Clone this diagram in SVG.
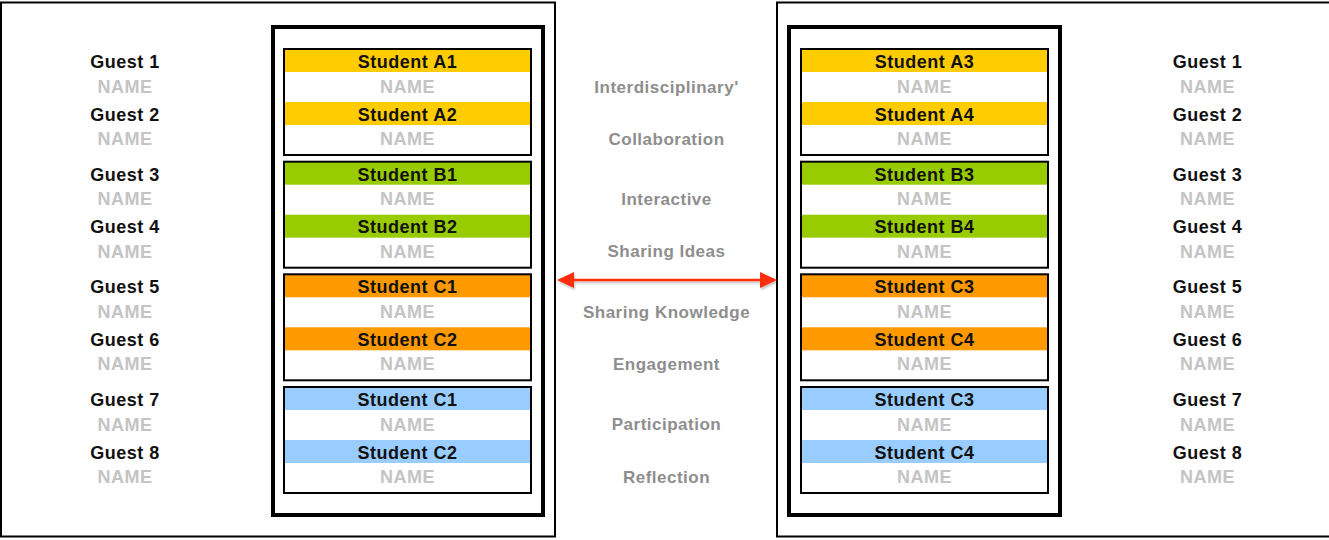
<svg xmlns="http://www.w3.org/2000/svg" width="1329" height="540" viewBox="0 0 1329 540">
<style>
text{font-family:"Liberation Sans",Arial,sans-serif;font-weight:bold;text-anchor:middle;letter-spacing:0.5px}
.lbl{font-size:18px;fill:#111}
.nm{font-size:18px;fill:#c4c4c4}
.mid{font-size:17px;fill:#8e8e8e}
.panel{fill:none;stroke:#000;stroke-width:2}
.frame{fill:none;stroke:#000;stroke-width:4}
.grp{fill:none;stroke:#000;stroke-width:2}
.y{fill:#FFCC00}.g{fill:#99CC00}.o{fill:#FF9900}.b{fill:#99CCFF}
.arrow{stroke:#FF2E0A;stroke-width:2.5;fill:none}
</style>
<defs>
<marker id="ah" markerUnits="userSpaceOnUse" viewBox="0 0 17 16" markerWidth="17" markerHeight="16" refX="14" refY="8" orient="auto-start-reverse">
<path d="M0,0 L17,8 L0,16 z" fill="#FF2E0A"/>
</marker>
<filter id="sh" filterUnits="userSpaceOnUse" x="540" y="260" width="260" height="40">
<feDropShadow dx="1" dy="2" stdDeviation="1.2" flood-color="#000" flood-opacity="0.25"/>
</filter>
</defs>
<rect width="1329" height="540" fill="#fff"/>
<g id="panels">
<rect class="panel" x="1" y="2.5" width="554" height="534"/>
<rect class="panel" x="777" y="2.5" width="560" height="534"/>
<rect class="frame" x="273" y="27" width="270" height="488"/>
<rect class="frame" x="789" y="27" width="271" height="488"/>
</g>

<!-- left student groups -->
<g id="groupA-left" transform="translate(284,49)">
<rect class="y" x="0" y="0" width="247" height="23"/><rect class="y" x="0" y="53" width="247" height="23"/>
<rect class="grp" x="0" y="0" width="247" height="106"/>
<text class="lbl" x="123.5" y="19">Student A1</text><text class="nm" x="123.5" y="43.5">NAME</text>
<text class="lbl" x="123.5" y="71.5">Student A2</text><text class="nm" x="123.5" y="96">NAME</text>
</g>
<g id="groupB-left" transform="translate(284,161.7)">
<rect class="g" x="0" y="0" width="247" height="23"/><rect class="g" x="0" y="53" width="247" height="23"/>
<rect class="grp" x="0" y="0" width="247" height="106"/>
<text class="lbl" x="123.5" y="19">Student B1</text><text class="nm" x="123.5" y="43.5">NAME</text>
<text class="lbl" x="123.5" y="71.5">Student B2</text><text class="nm" x="123.5" y="96">NAME</text>
</g>
<g id="groupC-left" transform="translate(284,274.3)">
<rect class="o" x="0" y="0" width="247" height="23"/><rect class="o" x="0" y="53" width="247" height="23"/>
<rect class="grp" x="0" y="0" width="247" height="106"/>
<text class="lbl" x="123.5" y="19">Student C1</text><text class="nm" x="123.5" y="43.5">NAME</text>
<text class="lbl" x="123.5" y="71.5">Student C2</text><text class="nm" x="123.5" y="96">NAME</text>
</g>
<g id="groupD-left" transform="translate(284,387)">
<rect class="b" x="0" y="0" width="247" height="23"/><rect class="b" x="0" y="53" width="247" height="23"/>
<rect class="grp" x="0" y="0" width="247" height="106"/>
<text class="lbl" x="123.5" y="19">Student C1</text><text class="nm" x="123.5" y="43.5">NAME</text>
<text class="lbl" x="123.5" y="71.5">Student C2</text><text class="nm" x="123.5" y="96">NAME</text>
</g>

<!-- right student groups -->
<g id="groupA-right" transform="translate(801,49)">
<rect class="y" x="0" y="0" width="247" height="23"/><rect class="y" x="0" y="53" width="247" height="23"/>
<rect class="grp" x="0" y="0" width="247" height="106"/>
<text class="lbl" x="123.5" y="19">Student A3</text><text class="nm" x="123.5" y="43.5">NAME</text>
<text class="lbl" x="123.5" y="71.5">Student A4</text><text class="nm" x="123.5" y="96">NAME</text>
</g>
<g id="groupB-right" transform="translate(801,161.7)">
<rect class="g" x="0" y="0" width="247" height="23"/><rect class="g" x="0" y="53" width="247" height="23"/>
<rect class="grp" x="0" y="0" width="247" height="106"/>
<text class="lbl" x="123.5" y="19">Student B3</text><text class="nm" x="123.5" y="43.5">NAME</text>
<text class="lbl" x="123.5" y="71.5">Student B4</text><text class="nm" x="123.5" y="96">NAME</text>
</g>
<g id="groupC-right" transform="translate(801,274.3)">
<rect class="o" x="0" y="0" width="247" height="23"/><rect class="o" x="0" y="53" width="247" height="23"/>
<rect class="grp" x="0" y="0" width="247" height="106"/>
<text class="lbl" x="123.5" y="19">Student C3</text><text class="nm" x="123.5" y="43.5">NAME</text>
<text class="lbl" x="123.5" y="71.5">Student C4</text><text class="nm" x="123.5" y="96">NAME</text>
</g>
<g id="groupD-right" transform="translate(801,387)">
<rect class="b" x="0" y="0" width="247" height="23"/><rect class="b" x="0" y="53" width="247" height="23"/>
<rect class="grp" x="0" y="0" width="247" height="106"/>
<text class="lbl" x="123.5" y="19">Student C3</text><text class="nm" x="123.5" y="43.5">NAME</text>
<text class="lbl" x="123.5" y="71.5">Student C4</text><text class="nm" x="123.5" y="96">NAME</text>
</g>

<!-- guests left -->
<g id="guests-left">
<text class="lbl" x="125" y="68">Guest 1</text><text class="nm" x="125" y="92.5">NAME</text>
<text class="lbl" x="125" y="120.5">Guest 2</text><text class="nm" x="125" y="145">NAME</text>
<text class="lbl" x="125" y="180.7">Guest 3</text><text class="nm" x="125" y="205.2">NAME</text>
<text class="lbl" x="125" y="233.2">Guest 4</text><text class="nm" x="125" y="257.7">NAME</text>
<text class="lbl" x="125" y="293.3">Guest 5</text><text class="nm" x="125" y="317.8">NAME</text>
<text class="lbl" x="125" y="345.8">Guest 6</text><text class="nm" x="125" y="370.3">NAME</text>
<text class="lbl" x="125" y="406">Guest 7</text><text class="nm" x="125" y="430.5">NAME</text>
<text class="lbl" x="125" y="458.5">Guest 8</text><text class="nm" x="125" y="483">NAME</text>
</g>
<!-- guests right -->
<g id="guests-right">
<text class="lbl" x="1207.5" y="68">Guest 1</text><text class="nm" x="1207.5" y="92.5">NAME</text>
<text class="lbl" x="1207.5" y="120.5">Guest 2</text><text class="nm" x="1207.5" y="145">NAME</text>
<text class="lbl" x="1207.5" y="180.7">Guest 3</text><text class="nm" x="1207.5" y="205.2">NAME</text>
<text class="lbl" x="1207.5" y="233.2">Guest 4</text><text class="nm" x="1207.5" y="257.7">NAME</text>
<text class="lbl" x="1207.5" y="293.3">Guest 5</text><text class="nm" x="1207.5" y="317.8">NAME</text>
<text class="lbl" x="1207.5" y="345.8">Guest 6</text><text class="nm" x="1207.5" y="370.3">NAME</text>
<text class="lbl" x="1207.5" y="406">Guest 7</text><text class="nm" x="1207.5" y="430.5">NAME</text>
<text class="lbl" x="1207.5" y="458.5">Guest 8</text><text class="nm" x="1207.5" y="483">NAME</text>
</g>

<!-- middle labels -->
<g id="concepts">
<text class="mid" x="666.5" y="92.5">Interdisciplinary'</text>
<text class="mid" x="666.5" y="145">Collaboration</text>
<text class="mid" x="666.5" y="204.7">Interactive</text>
<text class="mid" x="666.5" y="257">Sharing Ideas</text>
<text class="mid" x="666.5" y="317.5">Sharing Knowledge</text>
<text class="mid" x="666.5" y="370">Engagement</text>
<text class="mid" x="666.5" y="430">Participation</text>
<text class="mid" x="666.5" y="482.5">Reflection</text>
</g>

<g id="connectors" filter="url(#sh)">
<line class="arrow" x1="560" y1="280" x2="774" y2="280" marker-start="url(#ah)" marker-end="url(#ah)"/>
</g>
</svg>
